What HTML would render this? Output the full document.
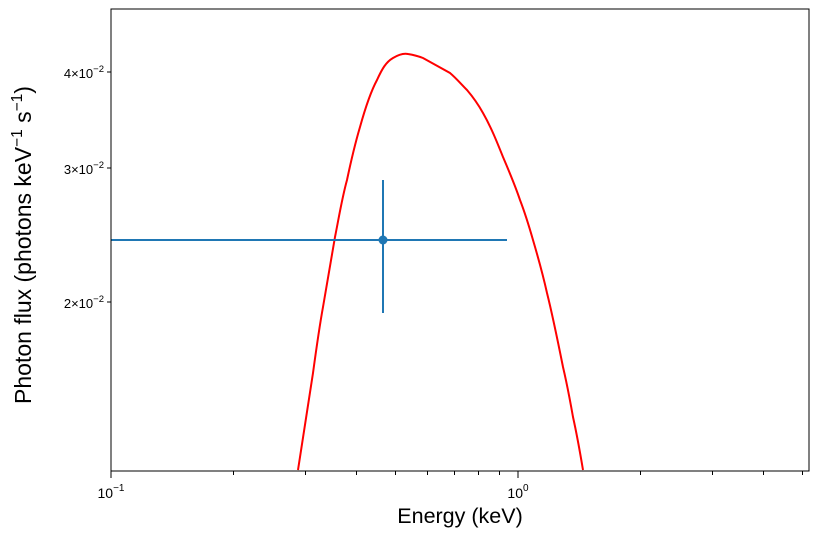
<!DOCTYPE html>
<html><head><style>body{margin:0;background:#fff}svg{display:block}</style></head><body>
<svg width="818" height="535" xmlns="http://www.w3.org/2000/svg" font-family="Liberation Sans, DejaVu Sans, sans-serif">
<rect width="818" height="535" fill="#fff"/>
<defs><clipPath id="c"><rect x="111" y="9" width="698" height="462"/></clipPath></defs>
<g clip-path="url(#c)">
<path d="M298,470 C303,437 308,405 313,373 C316,351 319,329 323,307 C327,283 331,260 335,237 C339,217 342,198 347,180 C351,161 355,144 360,127 C365,109 370,93 377,80 C382,69 386,62 393,58 C398,55 403,53 408,54 C414,55 418,56 423,58 L450,73 C456,78 461,84 467,90 C473,97 478,104 483,113 C491,127 497,142 503,157 C509,171 515,185 520,200 C525,213 529,226 533,240 C538,257 543,275 547,293 C553,317 558,342 563,367 C567,384 570,400 573,417 C577,435 580,452 583,470" fill="none" stroke="#ff0000" stroke-width="2"/>
<line x1="111" y1="240" x2="507" y2="240" stroke="#1f77b4" stroke-width="2"/>
<line x1="383" y1="180" x2="383" y2="313" stroke="#1f77b4" stroke-width="2"/>
<circle cx="383" cy="240" r="4.5" fill="#1f77b4"/>
</g>
<rect x="111" y="9" width="698" height="462" fill="none" stroke="#000" stroke-width="1"/>
<g stroke="#000" stroke-width="1">
<line x1="111" y1="471" x2="111" y2="478"/><line x1="518" y1="471" x2="518" y2="478"/>
<line x1="233.5" y1="471" x2="233.5" y2="475"/><line x1="305.5" y1="471" x2="305.5" y2="475"/>
<line x1="356.5" y1="471" x2="356.5" y2="475"/><line x1="395.5" y1="471" x2="395.5" y2="475"/>
<line x1="427.5" y1="471" x2="427.5" y2="475"/><line x1="454.5" y1="471" x2="454.5" y2="475"/>
<line x1="478.5" y1="471" x2="478.5" y2="475"/><line x1="499.5" y1="471" x2="499.5" y2="475"/>
<line x1="640.5" y1="471" x2="640.5" y2="475"/><line x1="712.5" y1="471" x2="712.5" y2="475"/>
<line x1="763.5" y1="471" x2="763.5" y2="475"/><line x1="802.5" y1="471" x2="802.5" y2="475"/>
<line x1="107" y1="72" x2="111" y2="72"/><line x1="107" y1="168" x2="111" y2="168"/><line x1="107" y1="302" x2="111" y2="302"/>
</g>
<g fill="#000">
<text x="111" y="498" text-anchor="middle" font-size="14">10<tspan dy="-7" font-size="10">−1</tspan></text>
<text x="518" y="498" text-anchor="middle" font-size="14">10<tspan dy="-7" font-size="10">0</tspan></text>
<text x="104" y="78" text-anchor="end" font-size="13">4×10<tspan dy="-6" font-size="9.5">−2</tspan></text>
<text x="104" y="174" text-anchor="end" font-size="13">3×10<tspan dy="-6" font-size="9.5">−2</tspan></text>
<text x="104" y="308" text-anchor="end" font-size="13">2×10<tspan dy="-6" font-size="9.5">−2</tspan></text>
</g>
<text x="460" y="523" text-anchor="middle" font-size="21.5">Energy (keV)</text>
<text transform="translate(31,245) rotate(-90)" text-anchor="middle" font-size="23">Photon flux (photons keV<tspan dy="-9" font-size="15.5">−1</tspan><tspan dy="9"> s</tspan><tspan dy="-9" font-size="15.5">−1</tspan><tspan dy="9">)</tspan></text>
</svg>
</body></html>
